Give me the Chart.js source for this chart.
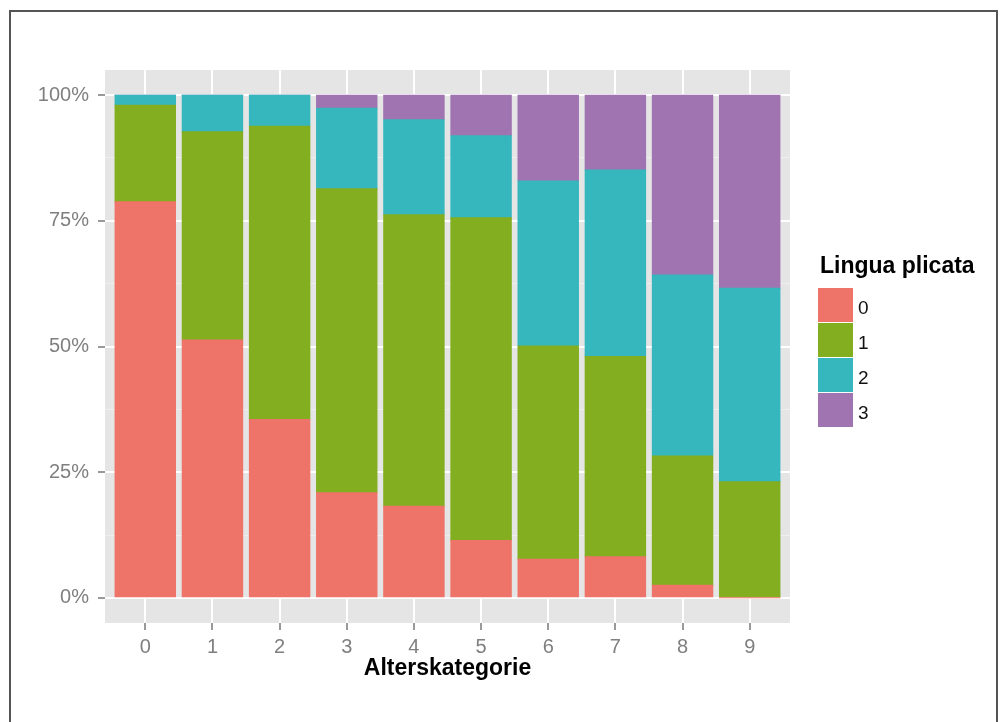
<!DOCTYPE html>
<html>
<head>
<meta charset="utf-8">
<script src="https://cdn.jsdelivr.net/npm/chart.js@4.4.1/dist/chart.umd.min.js"></script>
<style>
  html, body { margin: 0; padding: 0; background: #fff; overflow: hidden; }
  #wrap { position: relative; width: 1002px; height: 722px; }
  #frame { position: absolute; left: 9px; top: 10px; width: 985px; height: 730px; border: 2px solid #555; pointer-events: none; }
  canvas { position: absolute; left: 0; top: 0; }
</style>
</head>
<body>
<div id="wrap">
  <canvas id="myChart" width="1002" height="722"></canvas>
  <div id="frame"></div>
</div>
<script>
// age categories on the x axis, levels of "Lingua plicata" stacked
const categories = ["0", "1", "2", "3", "4", "5", "6", "7", "8", "9"];
const levels = ["0", "1", "2", "3"];
const share0 = [78.8, 51.3, 35.5, 20.9, 18.2, 11.4, 7.7, 8.2, 2.5, 0];
const share1 = [19.2, 41.4, 58.3, 60.5, 58.0, 64.2, 42.4, 39.8, 25.7, 23.1];
const share2 = [2.0, 7.3, 6.2, 16.0, 18.9, 16.3, 32.8, 37.1, 36.0, 38.5];
const share3 = [0, 0, 0, 2.6, 4.9, 8.1, 17.1, 14.9, 35.8, 38.4];
const yTicks = [0, 25, 50, 75, 100];
const yMinor = [12.5, 37.5, 62.5, 87.5];

const colors = ["#ee7368", "#82ae1f", "#36b7bd", "#a073b1"];
const legendTitle = "Lingua plicata";
const xTitle = "Alterskategorie";

const FONT = "'Liberation Sans', Arial, Helvetica, sans-serif";
Chart.defaults.font.family = FONT;

const ctx = document.getElementById("myChart");

//_ PLUGINS

const panelBg = {
  id: "panelBg",
  beforeDraw(chart) {
    const { ctx, chartArea: a } = chart;
    ctx.save();
    ctx.fillStyle = "#e5e5e5";
    ctx.fillRect(a.left, a.top, a.right - a.left, a.bottom - a.top);
    ctx.restore();
  },
};

const sideLegend = {
  id: "sideLegend",
  afterDraw(chart) {
    const c = chart.ctx;
    c.save();
    c.textBaseline = "alphabetic";
    c.fillStyle = "#000";
    c.font = "bold 23px " + FONT;
    c.fillText(legendTitle, 820, 273);
    chart.data.datasets.forEach((ds, i) => {
      const top = 288 + i * 35;
      c.fillStyle = ds.backgroundColor;
      c.fillRect(818, top, 35, 34);
      c.fillStyle = "#111";
      c.font = "19px " + FONT;
      c.fillText(ds.label, 858, top + 26);
    });
    c.restore();
  },
};

const isMajor = (v) => yTicks.includes(v);

const myChart = new Chart(ctx, {
  type: "bar",
  data: {
    labels: categories,
    datasets: [
      { label: levels[0], data: share0, backgroundColor: colors[0] },
      { label: levels[1], data: share1, backgroundColor: colors[1] },
      { label: levels[2], data: share2, backgroundColor: colors[2] },
      { label: levels[3], data: share3, backgroundColor: colors[3] },
    ],
  },
  options: {
    responsive: false,
    animation: false,
    categoryPercentage: 1,
    barPercentage: 0.9,
    borderWidth: 0,
    inflateAmount: 0.5,
    layout: { padding: { left: 0, right: 212, top: 70, bottom: 0 } },
    scales: {
      x: {
        type: "linear",
        stacked: true,
        min: -0.6,
        max: 9.6,
        offset: false,
        afterFit: (scale) => { scale.height = 99; },
        afterBuildTicks: (scale) => {
          scale.ticks = categories.map((c, i) => ({ value: i }));
        },
        grid: {
          offset: false,
          color: "#ffffff",
          lineWidth: 2,
          tickColor: "#777",
          tickWidth: 1.5,
          tickLength: 7,
        },
        border: { display: false },
        ticks: {
          autoSkip: false,
          maxRotation: 0,
          padding: 5,
          color: "#7f7f7f",
          font: { size: 20 },
          callback: (v) => categories[v] ?? "",
        },
        title: {
          display: true,
          text: xTitle,
          color: "#000",
          font: { size: 23, weight: "bold" },
          padding: { top: 0, bottom: 40 },
        },
      },
      y: {
        stacked: true,
        min: -5,
        max: 105,
        afterFit: (scale) => { scale.width = 105; },
        afterBuildTicks: (scale) => {
          scale.ticks = [...yTicks, ...yMinor].sort((a, b) => a - b).map((v) => ({ value: v }));
        },
        grid: {
          color: (c) => (c.tick && isMajor(c.tick.value) ? "#ffffff" : "#efefef"),
          lineWidth: (c) => (c.tick && isMajor(c.tick.value) ? 2 : 1),
          tickColor: (c) => (c.tick && isMajor(c.tick.value) ? "#777" : "rgba(0,0,0,0)"),
          tickWidth: 1.5,
          tickLength: 7,
        },
        border: { display: false },
        ticks: {
          autoSkip: false,
          padding: 9,
          color: "#7f7f7f",
          font: { size: 20 },
          callback: (v) => (isMajor(v) ? v + "%" : ""),
        },
      },
    },
    plugins: {
      legend: { display: false },
      tooltip: { enabled: false },
    },
  },
  plugins: [panelBg, sideLegend],
});
</script>
</body>
</html>
